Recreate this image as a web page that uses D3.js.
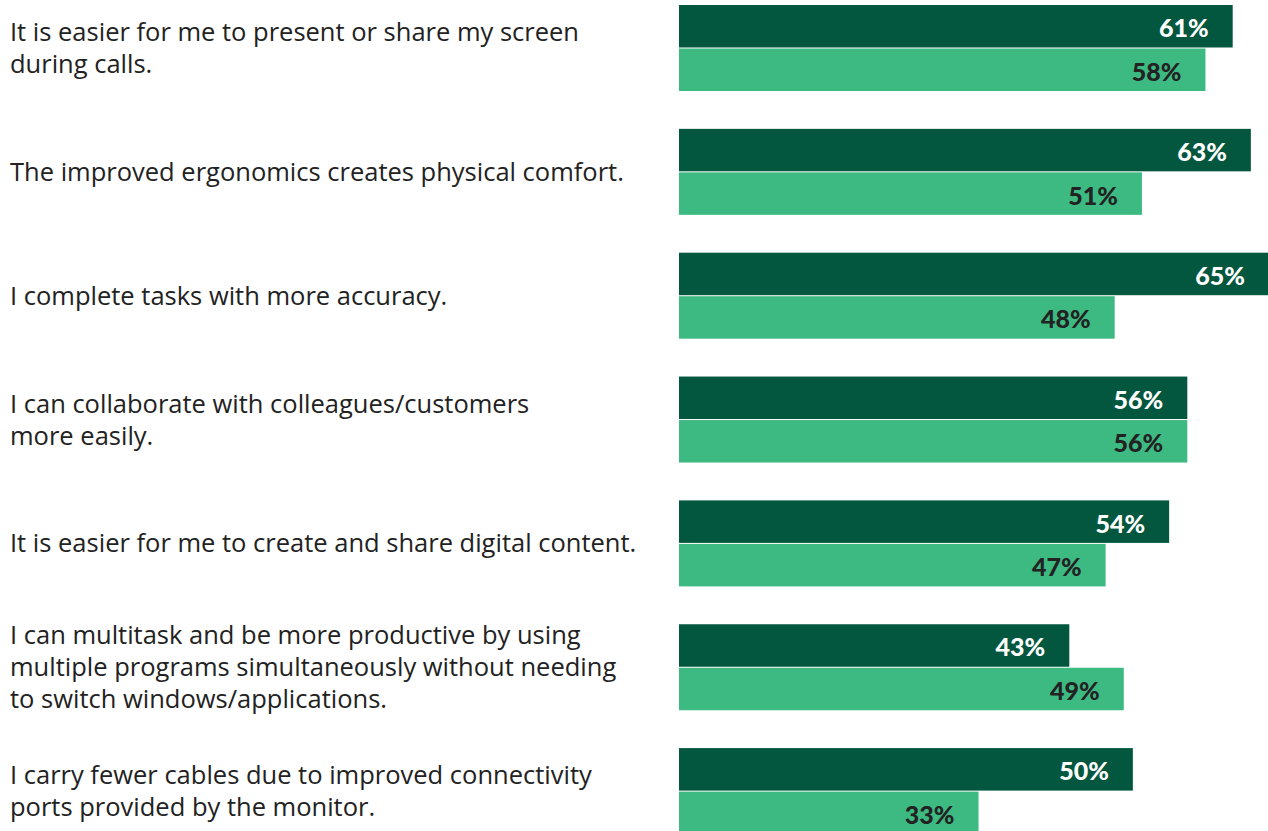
<!DOCTYPE html>
<html><head><meta charset="utf-8">
<script src="https://cdn.jsdelivr.net/npm/d3@7"></script>
<style>body{margin:0;background:#fff}svg{display:block}</style>
</head><body>
<svg id="c" width="1268" height="831"></svg>
<script>
const categories = [
  ["It is easier for me to present or share my screen", "during calls."],
  ["The improved ergonomics creates physical comfort."],
  ["I complete tasks with more accuracy."],
  ["I can collaborate with colleagues/customers", "more easily."],
  ["It is easier for me to create and share digital content."],
  ["I can multitask and be more productive by using", "multiple programs simultaneously without needing", "to switch windows/applications."],
  ["I carry fewer cables due to improved connectivity", "ports provided by the monitor."]
];
const seriesNames = ["A", "B"];
const seriesA = [61, 63, 65, 56, 54, 43, 50];
const seriesB = [58, 51, 48, 56, 47, 49, 33];
const colors = ["#02573e", "#3dba82"];
const labelColors = ["#ffffff", "#222222"];

const svg = d3.select("#c");
const step = 123.85, band = 86;
const y = d3.scaleBand().domain(d3.range(categories.length))
  .range([5, 5 + 6*step + band]).paddingInner((step-band)/step).paddingOuter(0);
const yi = d3.scaleBand().domain(seriesNames).range([0, y.bandwidth()]).paddingInner(2/86);
const x = d3.scaleLinear().domain([0, 65]).range([679, 1269]);

const g = svg.selectAll("g.grp").data(categories.map((c,i)=>({c, i, vals:[seriesA[i], seriesB[i]]})))
  .enter().append("g").attr("transform", d=>`translate(0,${y(d.i)})`);

g.each(function(d){
  const sel = d3.select(this);
  d.vals.forEach((v,k)=>{
    sel.append("rect").attr("x", x(0)).attr("y", yi(seriesNames[k]))
      .attr("width", x(v)-x(0)).attr("height", yi.bandwidth()).attr("fill", colors[k]);
    sel.append("text").attr("x", x(v)-24).attr("y", yi(seriesNames[k]) + yi.bandwidth()/2 + 11)
      .attr("text-anchor", "end")
      .attr("font-family", "Lato, sans-serif").attr("font-weight", 900).attr("font-size", 25)
      .attr("fill", labelColors[k]).text(v + "%");
  });
  const n = d.c.length, lh = 32, cy = y.bandwidth()/2;
  const t = sel.append("text").attr("font-family", "'Open Sans', sans-serif").attr("font-size", 25.5)
    .attr("fill", "#222");
  d.c.forEach((line, j)=>{
    t.append("tspan").attr("x", 10).attr("y", cy + (j - (n-1)/2)*lh + 9).text(line);
  });
});
</script>
</body></html>
